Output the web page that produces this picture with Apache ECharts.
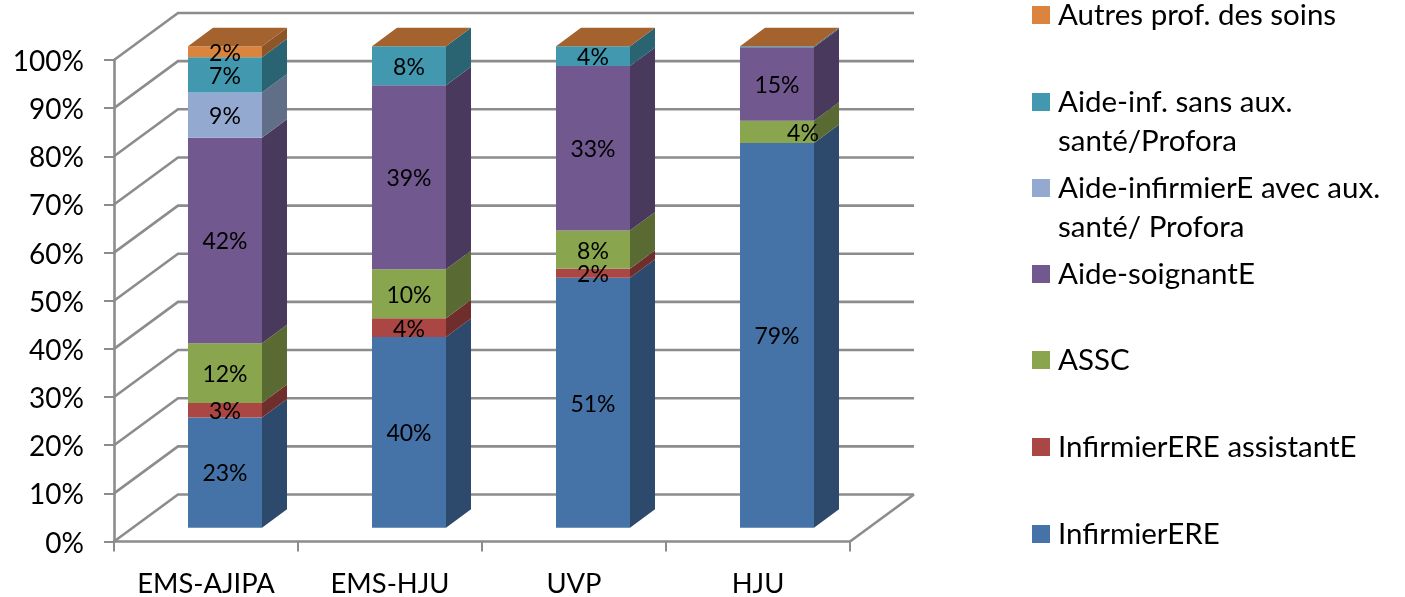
<!DOCTYPE html>
<html><head><meta charset="utf-8">
<style>html,body{margin:0;padding:0;background:#fff}#c{width:1405px;height:597px}</style>
<script src="https://cdn.jsdelivr.net/npm/echarts@6/dist/echarts.min.js"></script>
</head><body><div id="c"></div>
<script>
const categories = ['EMS-AJIPA', 'EMS-HJU', 'UVP', 'HJU'];
const yTicks = [0, 10, 20, 30, 40, 50, 60, 70, 80, 90, 100];

const infirmiere   = [22.9, 39.6, 51.9, 79.9];
const assistante   = [3.0, 3.9, 1.9, 0];
const assc         = [12.4, 10.2, 7.9, 4.6];
const soignante    = [42.7, 38.2, 34.2, 15.3];
const aideAvecAux  = [9.4, 0, 0, 0];
const aideSansAux  = [7.3, 8.1, 4.1, 0.2];
const autres       = [2.3, 0, 0, 0];

const lblInfirmiere  = ['23%', '40%', '51%', '79%'];
const lblAssistante  = ['3%', '4%', '2%', ''];
const lblAssc        = ['12%', '10%', '8%', '4%'];
const lblSoignante   = ['42%', '39%', '33%', '15%'];
const lblAideAvecAux = ['9%', '', '', ''];
const lblAideSansAux = ['7%', '8%', '4%', ''];
const lblAutres      = ['2%', '', '', ''];

const nameInfirmiere  = 'InfirmierERE';
const nameAssistante  = 'InfirmierERE assistantE';
const nameAssc        = 'ASSC';
const nameSoignante   = 'Aide-soignantE';
const nameAideAvecAux = 'Aide-infirmierE avec aux.\nsanté/ Profora';
const nameAideSansAux = 'Aide-inf. sans aux.\nsanté/Profora';
const nameAutres      = 'Autres prof. des soins';

const segs = [
  {name: nameInfirmiere,  values: infirmiere,  labels: lblInfirmiere,  color: '#4572A7', mid: 534},
  {name: nameAssistante,  values: assistante,  labels: lblAssistante,  color: '#AA4643', mid: 447},
  {name: nameAssc,        values: assc,        labels: lblAssc,        color: '#89A54E', mid: 360},
  {name: nameSoignante,   values: soignante,   labels: lblSoignante,   color: '#71588F', mid: 274},
  {name: nameAideAvecAux, values: aideAvecAux, labels: lblAideAvecAux, color: '#93A9CF', mid: 188},
  {name: nameAideSansAux, values: aideSansAux, labels: lblAideSansAux, color: '#4198AF', mid: 102},
  {name: nameAutres,      values: autres,      labels: lblAutres,      color: '#DB843D', mid: 15}
];

const FONT = 'Lato';
const LINE = '#8c8c8c';
const WALL = {dx: 64, dy: -47};          // depth of the chart box
const BAR = {ox: 19, oy: -13.8, dx: 25, dy: -18.5, w: 74}; // bar placement inside the box

function shade(hex, k) {
  const n = parseInt(hex.slice(1), 16);
  const c = s => Math.round(((n >> s) & 255) * k);
  return 'rgb(' + c(16) + ',' + c(8) + ',' + c(0) + ')';
}

const wallSeries = {
  type: 'custom', name: 'walls', silent: true, z: 1, legendHoverLink: false,
  encode: {x: 0, y: 1},
  data: yTicks.map(v => [0, v]),
  renderItem(params, api) {
    const cs = params.coordSys;
    const v = api.value(1);
    const y = api.coord([0, v])[1];
    const x0 = cs.x, x1 = cs.x + cs.width;
    const style = {stroke: LINE, lineWidth: 2.6, fill: null};
    const kids = [{type: 'polyline', shape: {points: [[x0, y], [x0 + WALL.dx, y + WALL.dy], [x1 + WALL.dx, y + WALL.dy]]}, style}];
    if (v === 0) kids.push({type: 'line', shape: {x1: x1, y1: y, x2: x1 + WALL.dx, y2: y + WALL.dy}, style});
    return {type: 'group', children: kids};
  }
};

let running = categories.map(() => 0);
const barSeries = segs.map((s, si) => {
  const data = s.values.map((v, i) => {
    const row = [i, running[i], running[i] + v];
    running[i] += v;
    return row;
  });
  return {
    type: 'custom', name: s.name, z: 3,
    itemStyle: {color: s.color},
    encode: {x: 0, y: [1, 2]},
    data,
    renderItem(params, api) {
      const i = api.value(0);
      const c0 = api.coord([i, api.value(1)]);
      const c1 = api.coord([i, api.value(2)]);
      const l = c0[0] - BAR.w / 2 + BAR.ox, r = l + BAR.w;
      const b = c0[1] + BAR.oy, t = c1[1] + BAR.oy;
      const kids = [];
      if (b - t > 0.01) {
        kids.push({type: 'polygon', shape: {points: [[r, b], [r + BAR.dx, b + BAR.dy], [r + BAR.dx, t + BAR.dy], [r, t]]},
          style: {fill: shade(s.color, 0.65)}});
        kids.push({type: 'rect', shape: {x: l, y: t, width: BAR.w, height: b - t}, style: {fill: s.color}});
      }
      if (si === segs.length - 1) {
        kids.push({type: 'polygon', shape: {points: [[l, t], [r, t], [r + BAR.dx, t + BAR.dy], [l + BAR.dx, t + BAR.dy]]},
          style: {fill: shade(s.color, 0.75)}});
      }
      const txt = s.labels[i];
      if (txt) {
        const shift = (txt === '4%' && i === 3) ? 26 : 0;
        kids.push({type: 'text', z2: 100, style: {
          text: txt, x: (l + r) / 2 + shift, y: (b + t) / 2 + 1.5, align: 'center', verticalAlign: 'middle',
          fontFamily: FONT, fontSize: 23, fill: '#000'}});
      }
      return {type: 'group', children: kids};
    }
  };
});

const legends = segs.map(s => ({
  data: [s.name], selectedMode: false, orient: 'vertical', padding: 0,
  left: 1032, top: s.mid - 17, itemWidth: 18, itemHeight: 18, icon: 'rect',
  formatter: n => n.split('\n')[0],
  textStyle: {fontFamily: FONT, fontSize: 29.5, color: '#000', lineHeight: 34, padding: [0, 0, 0, 3]}
}));

const secondLines = segs.filter(s => s.name.includes('\n')).map(s => ({
  type: 'text', left: 1058, top: s.mid + 39.5 - 17,
  style: {text: s.name.split('\n')[1], fontFamily: FONT, fontSize: 29.5, fill: '#000', lineHeight: 34}
}));

const chart = echarts.init(document.getElementById('c'), null, {renderer: 'canvas'});
chart.setOption({
  animation: false,
  backgroundColor: '#fff',
  tooltip: {show: false},
  grid: {left: 114, right: 555, top: 60, bottom: 55.5, outerBoundsMode: 'none'},
  legend: legends,
  graphic: secondLines,
  xAxis: {
    type: 'category', data: categories, boundaryGap: true,
    axisLine: {lineStyle: {color: LINE, width: 2.6}},
    axisTick: {show: true, alignWithLabel: false, length: 10, lineStyle: {color: LINE, width: 2}},
    axisLabel: {fontFamily: FONT, fontSize: 27.4, color: '#000', margin: 29},
    splitLine: {show: false}
  },
  yAxis: {
    type: 'value', min: 0, max: 100, interval: 10,
    axisLine: {show: true, lineStyle: {color: LINE, width: 2.6}},
    axisTick: {show: true, length: 10, lineStyle: {color: LINE, width: 2}},
    axisLabel: {
      color: '#000', margin: 30, formatter: v => '{a|' + v + '%}',
      rich: {a: {fontFamily: FONT, fontSize: 28, color: '#000', height: 30, lineHeight: 34, padding: [4, 0, 0, 0]}}
    },
    splitLine: {show: false}
  },
  series: [wallSeries].concat(barSeries)
});
</script></body></html>
